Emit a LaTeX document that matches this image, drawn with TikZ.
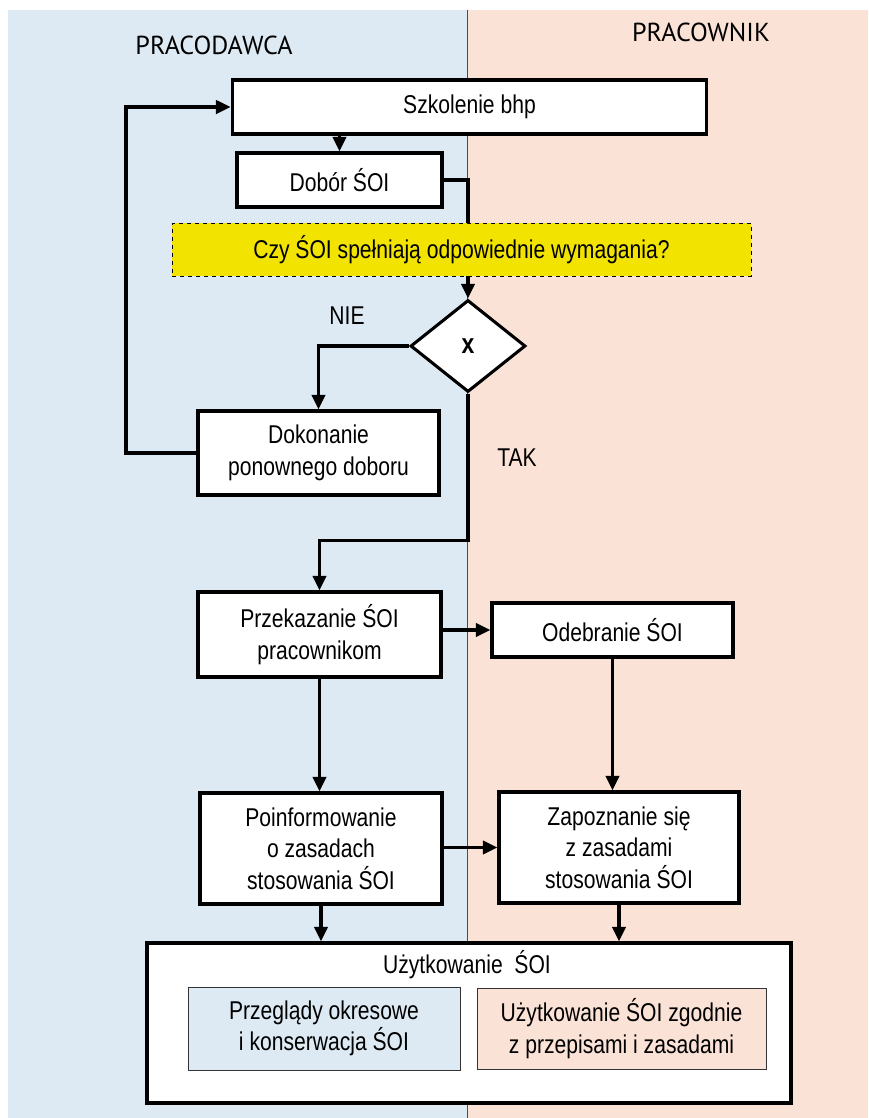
\documentclass[tikz,border=0pt]{standalone}
\usepackage{fontspec}
\setmainfont{Liberation Sans}[FakeStretch=0.82]
\newfontfamily\headfont{PT Sans}
\usetikzlibrary{arrows.meta, shapes.geometric}

\definecolor{employerblue}{HTML}{DDEAF3}
\definecolor{workerpeach}{HTML}{FBE2D6}
\definecolor{questionyellow}{HTML}{F2E400}
\newcommand{\boxfont}{\fontsize{19.3}{23.5}\selectfont}

\begin{document}
\begin{tikzpicture}[
    x=0.75pt, y=-0.75pt,
    box_style/.style={draw, line width=2.3pt, fill=white, align=center, font=\boxfont, inner sep=2pt},
    question_style/.style={draw, dashed, thin, fill=questionyellow, font=\boxfont, inner sep=2pt},
    decision_style/.style={diamond, draw, line width=2.3pt, fill=white, font=\fontsize{21}{22}\selectfont\bfseries, inner sep=0pt},
    inner_style/.style={draw, thin, draw=black!80, align=center, font=\boxfont, inner sep=2pt},
    head_style/.style={font=\headfont\fontsize{19.5}{22}\selectfont},
    label_style/.style={font=\boxfont},
    line_style/.style={line width=2.3pt},
    arrow_style/.style={line_style, -{Triangle[length=11pt, width=10pt]}}
]
\useasboundingbox (0,0) rectangle (868,1118);

% SWIMLANES
\fill[employerblue] (8,10) rectangle (467,1118);
\fill[workerpeach] (467,10) rectangle (868,1118);
\draw[black!70, thin] (467,10) -- (467,1118);
\node[head_style] (lane_left) at (214,45) {PRACODAWCA};
\node[head_style] (lane_right) at (701,32) {PRACOWNIK};

% Selection and check
\node[box_style, minimum width=356pt, minimum height=40.5pt] (szkol) at (469.5,107) {Szkolenie bhp};
\node[box_style, minimum width=153.75pt, minimum height=40.5pt] (dobor) at (339.5,180) {Dobór ŚOI};
\node[question_style, minimum width=434pt, minimum height=39.75pt] (pytanie) at (461.5,249.5) {Czy ŚOI spełniają odpowiednie wymagania?};
\node[decision_style, minimum width=86.25pt, minimum height=69pt] (decyzja) at (468,346) {x};
\node[label_style] (nie) at (347,316) {NIE};
\node[label_style] (tak) at (517,458) {TAK};
\node[box_style, minimum width=180.75pt, minimum height=63pt] (ponowny) at (318.5,453) {Dokonanie\\ponownego doboru};

% Handing over
\node[box_style, minimum width=182.25pt, minimum height=63.75pt] (przekaz) at (319.5,634.5) {Przekazanie ŚOI\\pracownikom};
\node[box_style, minimum width=180.75pt, minimum height=40.5pt] (odebr) at (612.5,630) {Odebranie ŚOI};
\node[box_style, minimum width=181.5pt, minimum height=83.25pt] (poinf) at (321,848.5) {Poinformowanie\\o zasadach\\stosowania ŚOI};
\node[box_style, minimum width=180pt, minimum height=83.25pt] (zapozn) at (619,847.5) {Zapoznanie się\\z zasadami\\stosowania ŚOI};

% Use
\node[box_style, minimum width=483pt, minimum height=120pt] (uzytk) at (469,1023) {};
\node[label_style] (uzytk_title) at (467,965) {Użytkowanie~~ŚOI};
\node[inner_style, fill=employerblue, minimum width=204pt, minimum height=62.25pt] (przegl) at (324,1028.5) {Przeglądy okresowe\\i konserwacja ŚOI};
\node[inner_style, fill=workerpeach, minimum width=216.75pt, minimum height=60.75pt] (zgodnie) at (621.5,1028.5) {Użytkowanie ŚOI zgodnie\\z przepisami i zasadami};

% CONNECTORS
\draw[arrow_style] (szkol.south -| dobor.north) -- (dobor.north);
\draw[line_style] (dobor.east) -| (decyzja.north |- pytanie.north);
\draw[arrow_style] (decyzja.north |- pytanie.south) -- (decyzja.north);
\draw[arrow_style] (decyzja.west) -| (ponowny.north);
\draw[arrow_style] (ponowny.west) -- (126,453) |- (szkol.west);
\draw[arrow_style] (decyzja.south) -- ++(0,147) -| (przekaz.north);
\draw[arrow_style] (przekaz.east |- odebr.west) -- (odebr.west);
\draw[arrow_style] (przekaz.south) -- (przekaz.south |- poinf.north);
\draw[arrow_style] (odebr.south) -- (odebr.south |- zapozn.north);
\draw[arrow_style] (poinf.east |- zapozn.west) -- (zapozn.west);
\draw[arrow_style] (poinf.south) -- (poinf.south |- uzytk.north);
\draw[arrow_style] (zapozn.south) -- (zapozn.south |- uzytk.north);

\end{tikzpicture}
\end{document}
